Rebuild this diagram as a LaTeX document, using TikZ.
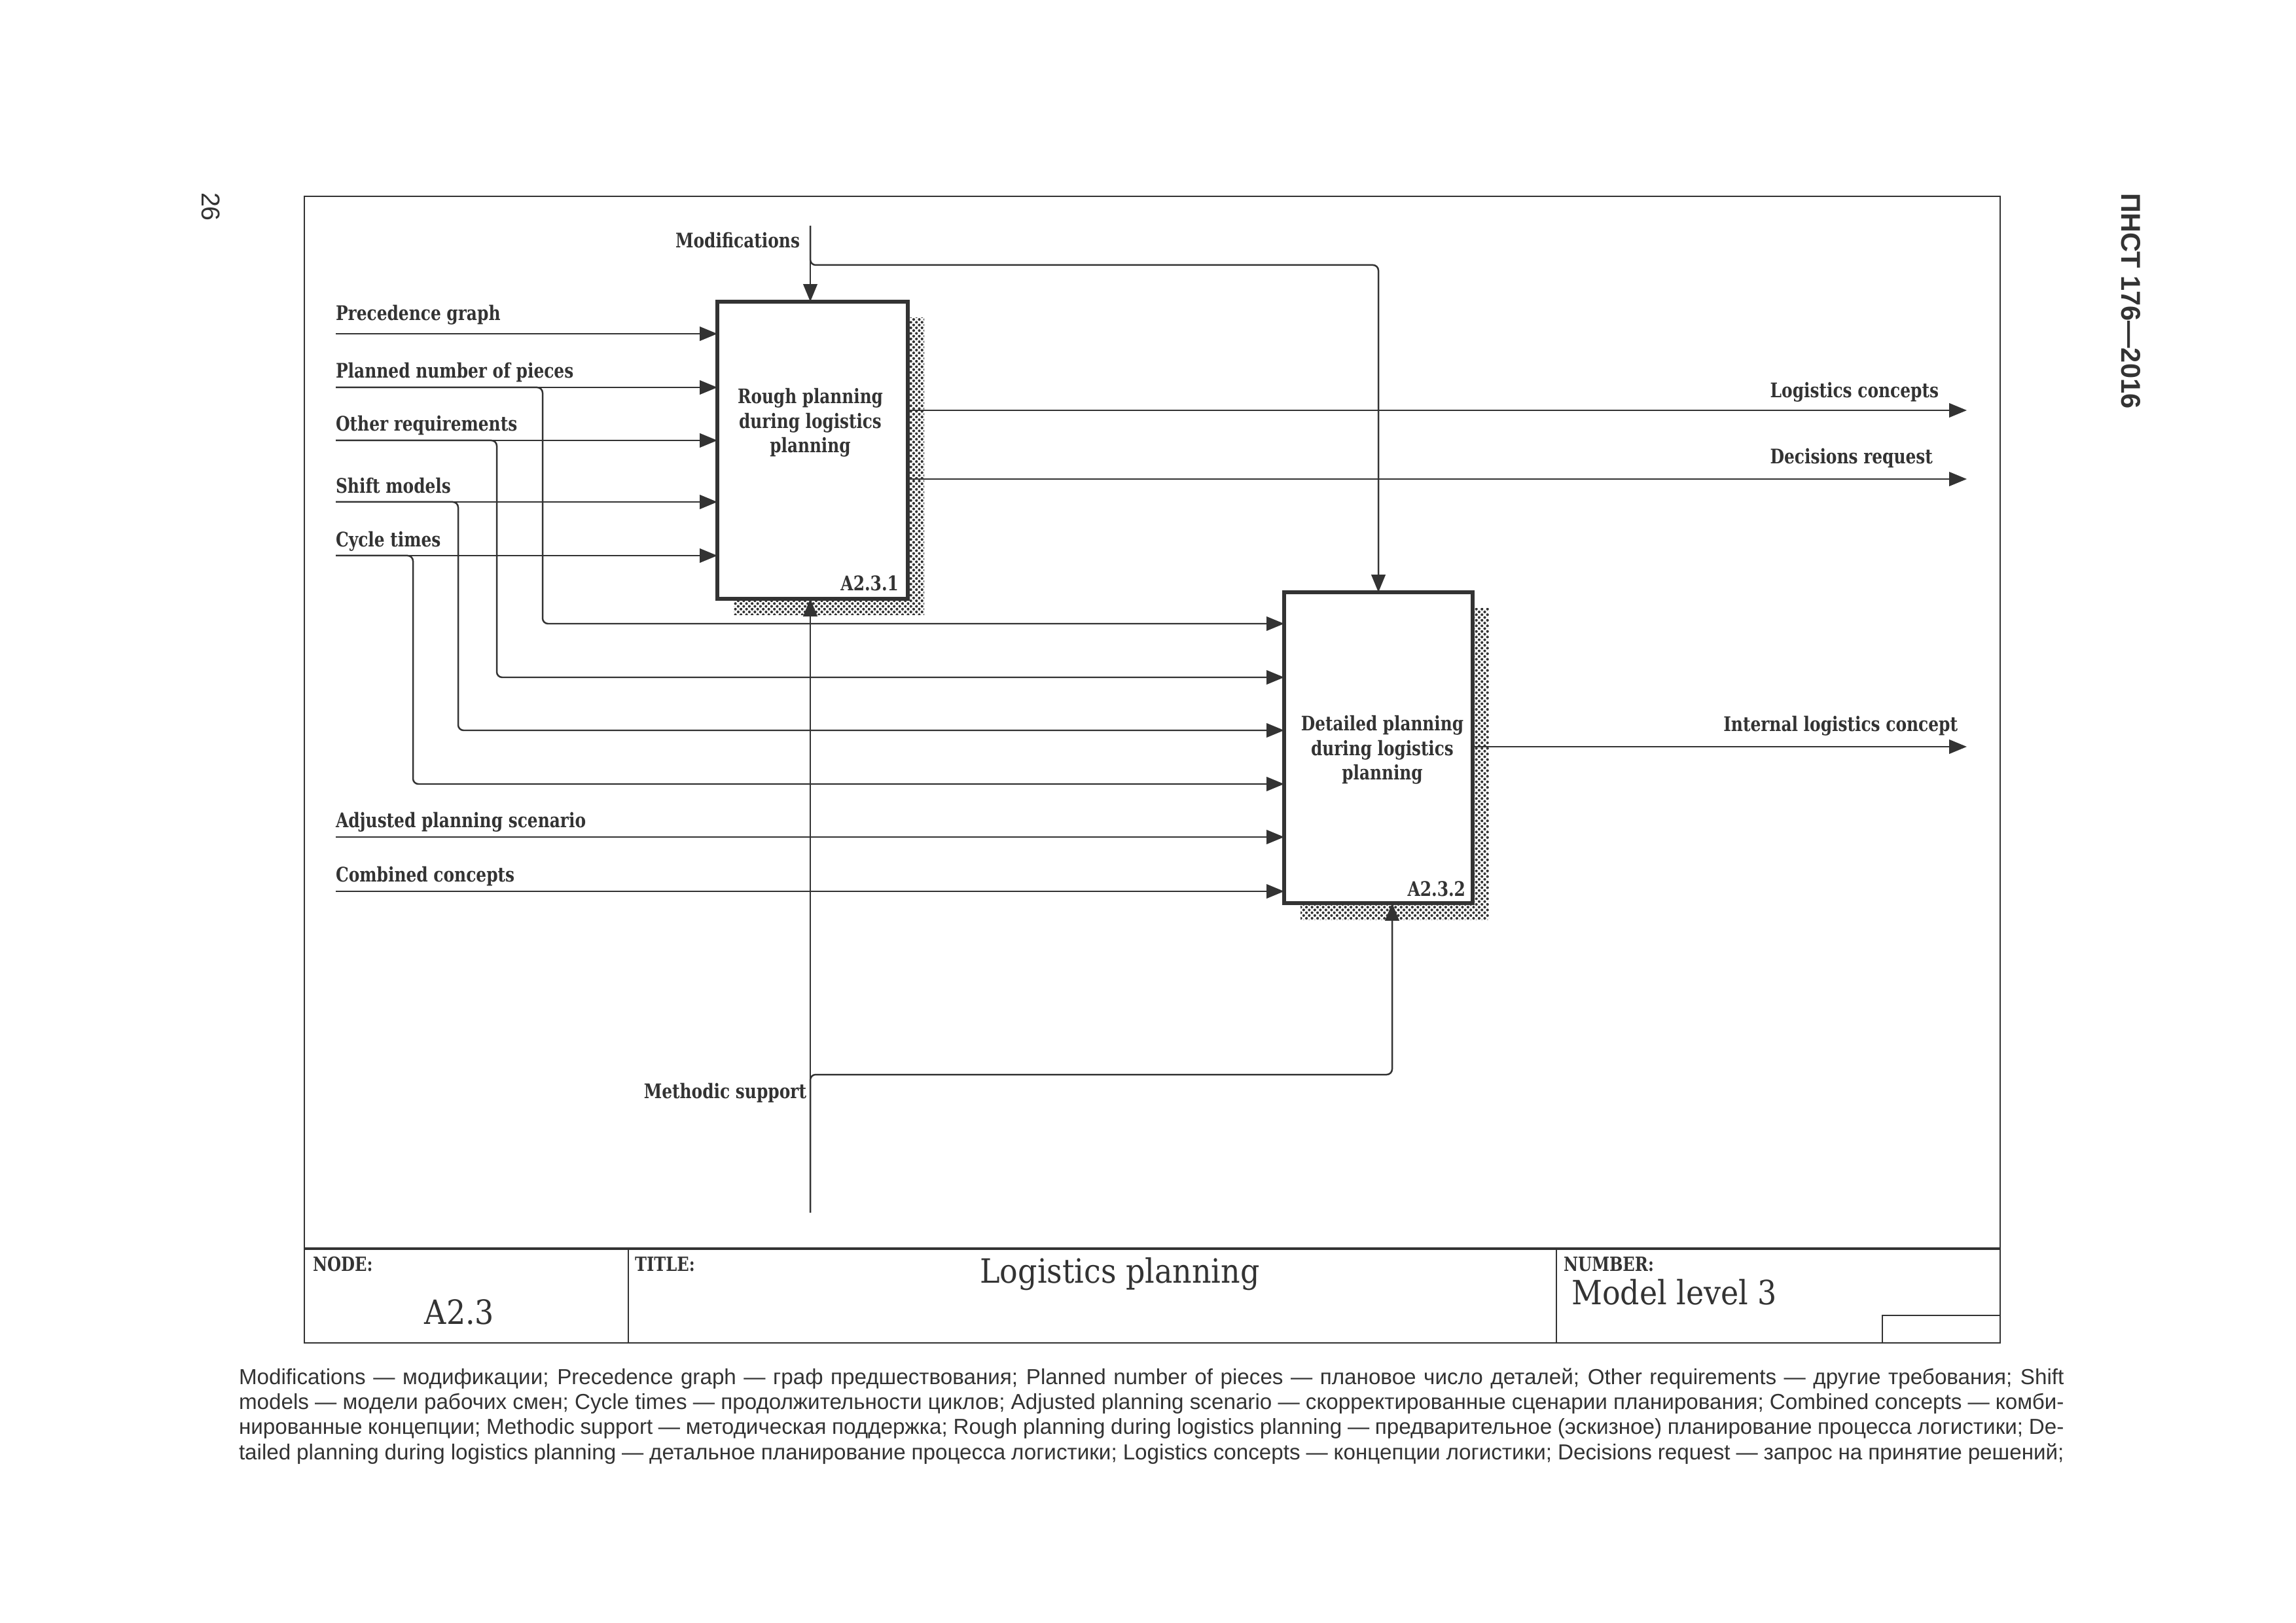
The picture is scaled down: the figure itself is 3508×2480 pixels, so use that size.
\documentclass[tikz,border=0pt]{standalone}
\usepackage{fontspec}
\usepackage{graphicx}
\setmainfont{DejaVu Serif Condensed}
\newfontfamily\footfont{Liberation Sans}
\usetikzlibrary{arrows.meta,patterns.meta,fit}
\definecolor{ink}{HTML}{333333}
\newcommand\sq[1]{\scalebox{0.9}[1]{#1}}
\begin{document}
\begin{tikzpicture}[x=0.0846667mm,y=-0.0846667mm,
  every node/.style={inner sep=0pt,outer sep=0pt,text=ink},
  wire/.style={draw=ink,line width=0.6pt,rounded corners=2pt},
  arr/.style={wire,-{Triangle[length=6.5pt,width=5.2pt]}},
  lbl/.style={font=\bfseries\fontsize{7.4}{9}\selectfont},
  boxtxt/.style={font=\bfseries\fontsize{7.35}{9}\selectfont,align=center},
  proc/.style={draw=ink,line width=1.3pt,fill=white,inner sep=0pt},
  shade/.style={pattern={Dots[radius=0.5pt,distance=1.45pt,angle=45]},pattern color=ink},
  frame/.style={draw=ink,line width=0.7pt},
  small/.style={font=\bfseries\fontsize{7.2}{8}\selectfont},
  big/.style={font=\fontsize{12.3}{14}\selectfont},
  foot/.style={font=\footfont\fontsize{8}{9.2}\selectfont,anchor=base west}]
\useasboundingbox[fill=white] (0,0) rectangle (3508,2480);
% frame and title block
\node[frame,fit={(465,300) (3056,2052)}] (frm) {};
\coordinate (tbL) at (465,1908);
\draw[frame,line width=1pt] (tbL) -- (tbL -| frm.east);
\coordinate (d1) at (960,1908);
\coordinate (d2) at (2378,1908);
\draw[frame] (d1) -- (d1 |- frm.south);
\draw[frame] (d2) -- (d2 |- frm.south);
\coordinate (sb) at (2876,2010);
\draw[frame] (sb -| frm.east) -- (sb) -- (sb |- frm.south);
\node[small,anchor=base west] (nodeL) at (478,1942) {\sq{NODE:}};
\node[small,anchor=base west] (titleL) at (970,1942) {\sq{TITLE:}};
\node[small,anchor=base west] (numL) at (2389,1942) {\sq{NUMBER:}};
\node[big,anchor=base] (nodeV) at (702,2023) {A2.3};
\node[big,anchor=base] (titleV) at (1711,1960) {Logistics planning};
\node[big,anchor=base west] (numV) at (2401,1993) {Model level 3};
% boxes
\fill[shade] (1121,486) rectangle (1412,940);
\fill[shade] (1987,930) rectangle (2275,1405);
\node[proc,fit={(1096,461) (1387,915)}] (b1) {};
\node[proc,fit={(1962,905) (2250,1380)}] (b2) {};
\node[boxtxt] (b1t) at (1238,646) {\sq{Rough planning}\\\sq{during logistics}\\\sq{planning}};
\node[boxtxt] (b2t) at (2112,1146) {\sq{Detailed planning}\\\sq{during logistics}\\\sq{planning}};
\node[lbl,anchor=base east] (b1n) at (1373,903) {\sq{A2.3.1}};
\node[lbl,anchor=base east] (b2n) at (2239,1369) {\sq{A2.3.2}};
% input coordinates
\coordinate (pg) at (513,510);
\coordinate (pn) at (513,592);
\coordinate (orq) at (513,673);
\coordinate (sm) at (513,767);
\coordinate (ct) at (513,849);
\coordinate (aps) at (513,1279);
\coordinate (cc) at (513,1362);
\coordinate (y1) at (0,953);
\coordinate (y2) at (0,1035);
\coordinate (y3) at (0,1116);
\coordinate (y4) at (0,1198);
% labels
\node[lbl,anchor=base west] (pgL) at (513,490) {\sq{Precedence graph}};
\node[lbl,anchor=base west] (pnL) at (513,578) {\sq{Planned number of pieces}};
\node[lbl,anchor=base west] (orL) at (513,659) {\sq{Other requirements}};
\node[lbl,anchor=base west] (smL) at (513,754) {\sq{Shift models}};
\node[lbl,anchor=base west] (ctL) at (513,836) {\sq{Cycle times}};
\node[lbl,anchor=base west] (apL) at (513,1265) {\sq{Adjusted planning scenario}};
\node[lbl,anchor=base west] (ccL) at (513,1347) {\sq{Combined concepts}};
% inputs to box 1
\draw[arr] (pg) -- (pg -| b1.west);
\draw[arr] (pn) -- (pn -| b1.west);
\draw[arr] (orq) -- (orq -| b1.west);
\draw[arr] (sm) -- (sm -| b1.west);
\draw[arr] (ct) -- (ct -| b1.west);
% branches to box 2
\draw[arr] (pn) -| (829,953) -- (b2.west |- y1);
\draw[arr] (orq) -| (759,1035) -- (b2.west |- y2);
\draw[arr] (sm) -| (700,1116) -- (b2.west |- y3);
\draw[arr] (ct) -| (631,1198) -- (b2.west |- y4);
\draw[arr] (aps) -- (aps -| b2.west);
\draw[arr] (cc) -- (cc -| b2.west);
% control: modifications
\coordinate (mod) at (1238,345);
\coordinate (modK) at (2106,405);
\node[lbl,anchor=base east] (modL) at (1222,379) {\sq{Modifications}};
\draw[arr] (mod) -- (mod |- b1.north);
\draw[arr] (mod) |- (modK) -- (b2.north);
% mechanism: methodic support
\coordinate (ms) at (1238,1853);
\coordinate (msK) at (2127,1642);
\node[lbl,anchor=base east] (msL) at (1232,1678) {\sq{Methodic support}};
\draw[arr] (ms) -- (ms |- b1.south);
\draw[arr] (ms) |- (msK) -- (msK |- b2.south);
% outputs
\coordinate (lc) at (3005,627);
\coordinate (dr) at (3005,732);
\coordinate (il) at (3005,1141);
\draw[arr] (b1.east |- lc) -- (lc);
\draw[arr] (b1.east |- dr) -- (dr);
\draw[arr] (b2.east |- il) -- (il);
\node[lbl,anchor=base east] (lcL) at (2962,608) {\sq{Logistics concepts}};
\node[lbl,anchor=base east] (drL) at (2953,709) {\sq{Decisions request}};
\node[lbl,anchor=base east] (ilL) at (2991,1118) {\sq{Internal logistics concept}};
% page furniture
\node[rotate=-90,font=\footfont\fontsize{9.5}{10}\selectfont] (pnum) at (322,316) {26};
\node[rotate=-90,font=\footfont\bfseries\fontsize{10}{10}\selectfont] (std) at (3256,460) {ПНСТ 176—2016};
% footer
\node[foot] (f1) at (365,2115) {\makebox[671.8pt][s]{Modifications — модификации; Precedence graph — граф предшествования; Planned number of pieces — плановое число деталей; Other requirements — другие требования; Shift}};
\node[foot] (f2) at (365,2153) {\makebox[671.8pt][s]{models — модели рабочих смен; Cycle times — продолжительности циклов; Adjusted planning scenario — скорректированные сценарии планирования; Combined concepts — комби-}};
\node[foot] (f3) at (365,2191) {\makebox[671.8pt][s]{нированные концепции; Methodic support — методическая поддержка; Rough planning during logistics planning — предварительное (эскизное) планирование процесса логистики; De-}};
\node[foot] (f4) at (365,2230) {\makebox[671.8pt][s]{tailed planning during logistics planning — детальное планирование процесса логистики; Logistics concepts — концепции логистики; Decisions request — запрос на принятие решений;}};
\end{tikzpicture}
\end{document}
